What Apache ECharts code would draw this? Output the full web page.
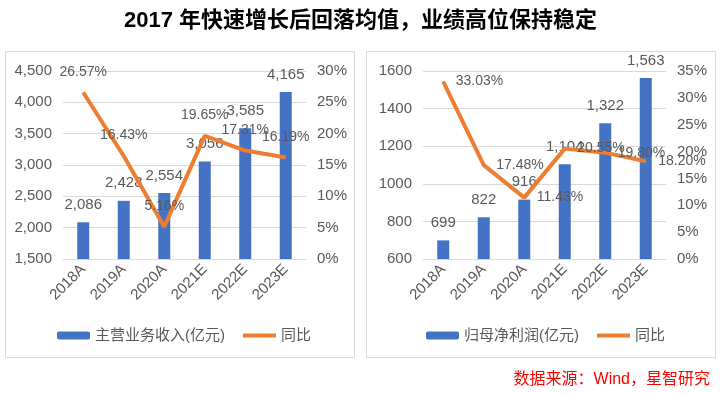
<!DOCTYPE html>
<html><head><meta charset="utf-8">
<script src="https://cdn.jsdelivr.net/npm/echarts@6/dist/echarts.min.js"></script>
<style>html,body{margin:0;padding:0;background:#fff}#c{width:721px;height:393px}</style>
</head><body><div id="c"></div>
<script>
const categories = ['2018A','2019A','2020A','2021E','2022E','2023E'];
const revenue = [2086, 2428, 2554, 3056, 3585, 4165];
const revenueYoY = [26.57, 16.43, 5.16, 19.65, 17.31, 16.19];
const profit = [699, 822, 916, 1104, 1322, 1563];
const profitYoY = [33.03, 17.48, 11.43, 20.55, 19.80, 18.20];
const titleText = '2017 年快速增长后回落均值，业绩高位保持稳定';
const sourceText = '数据来源：Wind，星智研究';
const revName = '主营业务收入(亿元)';
const profName = '归母净利润(亿元)';
const yoyName = '同比';

const FONT = '"Liberation Sans","Noto Sans CJK SC",sans-serif';
const GRAY = '#595959';
const BLUE = '#4472C4';
const ORANGE = '#ED7D31';
const fmtComma = v => Number(v).toLocaleString('en-US');
const LINE_ICON = 'path://M0,0L35,0L35,4L0,4Z';

const chart = echarts.init(document.getElementById('c'));
function xAx(gi){
  return {type:'category', gridIndex:gi, data:categories,
    axisLine:{lineStyle:{color:'#d9d9d9'}}, axisTick:{show:false},
    axisLabel:{rotate:45, color:GRAY, fontSize:15, fontFamily:FONT, margin:8}};
}
function yAx(gi,min,max,interval,fmt,pos){
  return {type:'value', gridIndex:gi, min:min, max:max, interval:interval, position:pos,
    axisLine:{show:false}, axisTick:{show:false},
    splitLine:{show:pos==='left', lineStyle:{color:'#d9d9d9'}},
    axisLabel:{color:GRAY, fontSize:15, fontFamily:FONT, margin:11, formatter:fmt}};
}
function lineSeries(xi, yi, data, pos, dist){
  return {name:yoyName, type:'line', xAxisIndex:xi, yAxisIndex:yi, data:data,
    symbol:'circle', symbolSize:1, showSymbol:true,
    lineStyle:{color:ORANGE, width:4}, itemStyle:{color:ORANGE}, z:3,
    label:{show:true, position:pos, distance:dist, color:GRAY, fontSize:14, fontFamily:FONT,
      formatter:p=>p.value.toFixed(2)+'%'},
    labelLayout:{hideOverlap:false}};
}
chart.setOption({
  animation:false,
  textStyle:{fontFamily:FONT},
  title:{text:titleText, left:'center', top:5,
    textStyle:{fontSize:22, fontWeight:'bold', color:'#000', fontFamily:FONT}},
  graphic:[
    {type:'rect', shape:{x:5.5,y:51.5,width:349,height:306}, style:{fill:'none',stroke:'#d9d9d9',lineWidth:1}},
    {type:'rect', shape:{x:366.5,y:51.5,width:349,height:306}, style:{fill:'none',stroke:'#d9d9d9',lineWidth:1}},
    {type:'text', right:11, top:372, style:{text:sourceText, fill:'#FF0000', fontSize:16, fontFamily:FONT}}
  ],
  legend:[
    {left:52, top:323, itemWidth:33, itemHeight:8, itemGap:18,
      data:[revName, {name:yoyName, icon:LINE_ICON}],
      textStyle:{color:GRAY, fontSize:15, fontFamily:FONT}},
    {left:421, top:323, itemWidth:33, itemHeight:8, itemGap:18,
      data:[profName, {name:yoyName, icon:LINE_ICON}],
      textStyle:{color:GRAY, fontSize:15, fontFamily:FONT}}
  ],
  grid:[
    {left:63, top:71, width:243, height:188},
    {left:423, top:71, width:243, height:188}
  ],
  xAxis:[xAx(0), xAx(1)],
  yAxis:[
    yAx(0,1500,4500,500,v=>fmtComma(v),'left'),
    yAx(0,0,30,5,v=>v+'%','right'),
    yAx(1,600,1600,200,v=>String(v),'left'),
    yAx(1,0,35,5,v=>v+'%','right')
  ],
  series:[
    {name:revName, type:'bar', xAxisIndex:0, yAxisIndex:0, data:revenue, barWidth:12,
      itemStyle:{color:BLUE},
      label:{show:true, position:'top', distance:10, color:GRAY, fontSize:15, formatter:p=>fmtComma(p.value)}},
    lineSeries(0,1,revenueYoY,'top',13),
    {name:profName, type:'bar', xAxisIndex:1, yAxisIndex:2, data:profit, barWidth:12,
      itemStyle:{color:BLUE},
      label:{show:true, position:'top', distance:10, color:GRAY, fontSize:15, formatter:p=>fmtComma(p.value)}},
    lineSeries(1,3,profitYoY,'right',12)
  ]
});
</script></body></html>
